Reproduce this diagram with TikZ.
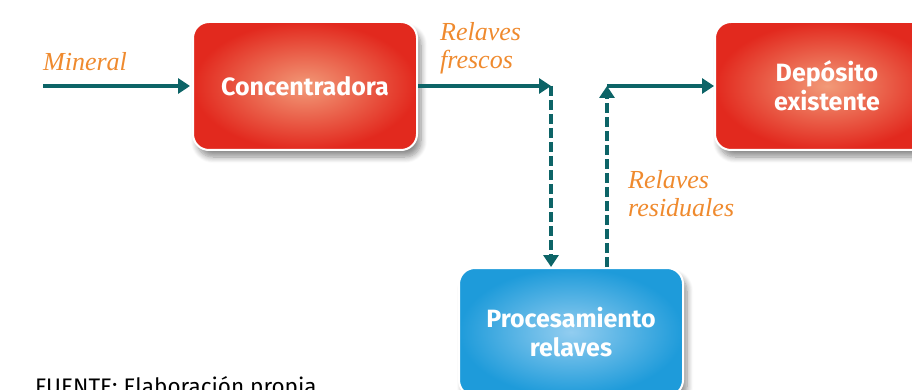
\documentclass[tikz,border=0pt]{standalone}
\usepackage{fontspec}
\setmainfont{Fira Sans}
\newfontfamily\lblfont{Liberation Serif}
\usetikzlibrary{arrows.meta, positioning, shadows.blur, calc}
\definecolor{flowteal}{HTML}{0D6467}
\definecolor{lblorange}{HTML}{EF8A2E}
\definecolor{redout}{HTML}{E2291E}
\definecolor{redin}{HTML}{F29A78}
\definecolor{blueout}{HTML}{1E9BDA}
\definecolor{bluein}{HTML}{92CDF0}
\tikzset{%
	unit/.style={rectangle, rounded corners=16pt, draw=white, line width=2pt,%
		minimum width=224pt, minimum height=128pt, align=center, text=white,%
		font=\fontsize{25}{29}\selectfont\bfseries,%
		blur shadow={shadow xshift=4pt, shadow yshift=-7pt, shadow blur radius=6pt,%
			shadow blur steps=8, shadow opacity=45}},
	hot/.style={unit, inner color=redin, outer color=redout},
	cold/.style={unit, inner color=bluein, outer color=blueout},
	flow/.style={-{Triangle[length=12pt, width=15pt]}, line width=4pt, draw=flowteal},
	dflow/.style={flow, dash pattern=on 10pt off 4pt},
	lbl/.style={text=lblorange, font=\lblfont\itshape\fontsize{26}{28}\selectfont, align=left, inner sep=0pt}
}
\begin{document}
\begin{tikzpicture}[x=1pt, y=-1pt]
	\useasboundingbox (0,0) rectangle (912,390);
	\node[hot] (conc) at (305,86) {Concentradora};
	\node[hot] (dep) at (827,86) {Depósito\\existente};
	\node[cold] (proc) at (571,332) {Procesamiento\\relaves};
	\coordinate (src) at (43,86);
	\coordinate (jf) at (551,86);
	\coordinate (jr) at (607,86);
	\node[lbl, anchor=north west] (mineral) at (43,52) {Mineral};
	\node[lbl, anchor=north west] (fresh) at (440,22) {Relaves\\frescos};
	\node[lbl, anchor=north west] (resid) at (628,170) {Relaves\\residuales};
	\node[anchor=north west, inner sep=0pt, font=\fontsize{22.5}{26}\selectfont] (src-note) at (35,376) {FUENTE: Elaboración propia};
	\draw [flow, shorten >=2pt] (src) -- (conc);
	\draw [flow] (conc) -- (jf);
	\draw [dflow] (jf) -- (jf |- proc.north);
	\draw [dflow] (jr |- proc.north) -- (jr);
	\draw [flow] (jr) -- (dep);
\end{tikzpicture}
\end{document}
